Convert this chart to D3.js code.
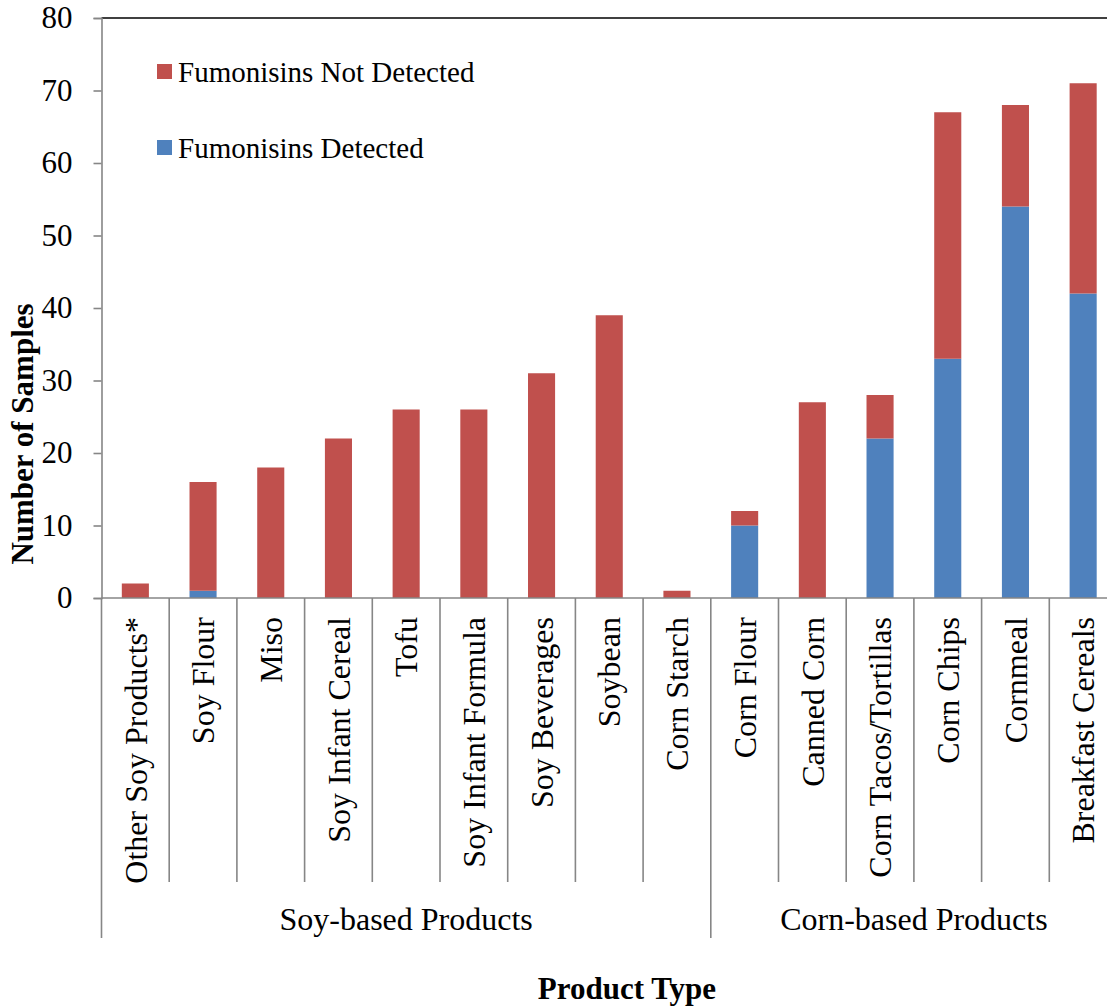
<!DOCTYPE html>
<html>
<head>
<meta charset="utf-8">
<script src="https://cdn.jsdelivr.net/npm/d3@7"></script>
<style>
  html, body { margin: 0; padding: 0; background: #fff; }
  svg { display: block; font-family: "Liberation Serif", "Times New Roman", serif; }
</style>
</head>
<body>
<svg id="chart" width="1107" height="1006"></svg>
<script>
// Product categories, in display order
const categories = [
  "Other Soy Products*", "Soy Flour", "Miso", "Soy Infant Cereal", "Tofu",
  "Soy Infant Formula", "Soy Beverages", "Soybean", "Corn Starch",
  "Corn Flour", "Canned Corn", "Corn Tacos/Tortillas", "Corn Chips",
  "Cornmeal", "Breakfast Cereals"
];
// Samples with fumonisins detected
const detected    = [0, 1, 0, 0, 0, 0, 0, 0, 0, 10, 0, 22, 33, 54, 42];
// Samples with fumonisins not detected
const notDetected = [2, 15, 18, 22, 26, 26, 31, 39, 1, 2, 27, 6, 34, 14, 29];
// Category groups: label and number of categories in each
const groups = [
  { label: "Soy-based Products",  count: 9 },
  { label: "Corn-based Products", count: 6 }
];
const yTicks = [0, 10, 20, 30, 40, 50, 60, 70, 80];
const seriesNames = ["Fumonisins Not Detected", "Fumonisins Detected"];

const colors = { detected: "#4F81BD", notDetected: "#C0504D" };
const axisGray = "#868686";
const serif = "'Liberation Serif', 'Times New Roman', serif";

const svg = d3.select("#chart");
const plotLeft = 101.5, plotRight = 1117, plotTop = 18, plotBottom = 598;

const x = d3.scaleBand().domain(categories).range([plotLeft, plotRight]).paddingInner(0.6).paddingOuter(0.3);
const xCat = d3.scaleBand().domain(categories).range([plotLeft, plotRight]);
const y = d3.scaleLinear().domain([0, 80]).range([plotBottom, plotTop]);

const rows = categories.map((c, i) => ({ category: c, detected: detected[i], notDetected: notDetected[i] }));
const stack = d3.stack().keys(["detected", "notDetected"])(rows);

// Stacked bars
svg.append("g").selectAll("g").data(stack).join("g")
  .attr("fill", d => colors[d.key])
  .selectAll("rect").data(d => d).join("rect")
  .attr("x", d => x(d.data.category))
  .attr("width", x.bandwidth())
  .attr("y", d => y(d[1]))
  .attr("height", d => y(d[0]) - y(d[1]));

// Plot area top border
svg.append("line")
  .attr("x1", plotLeft).attr("x2", plotRight).attr("y1", plotTop).attr("y2", plotTop)
  .attr("stroke", "#000").attr("stroke-width", 1.6);

// Y axis
const yAxis = svg.append("g")
  .attr("transform", `translate(${plotLeft},0)`)
  .call(d3.axisLeft(y).tickValues(yTicks).tickSize(8).tickPadding(21));
yAxis.attr("font-family", null).attr("font-size", null);
yAxis.select(".domain").attr("stroke", axisGray).attr("stroke-width", 1.6);
yAxis.selectAll(".tick line").attr("stroke", axisGray).attr("stroke-width", 1.6);
yAxis.selectAll(".tick text")
  .style("font-family", serif)
  .attr("font-size", 31).attr("fill", "#000");

// X axis baseline
svg.append("line")
  .attr("x1", plotLeft).attr("x2", plotRight).attr("y1", plotBottom).attr("y2", plotBottom)
  .attr("stroke", axisGray).attr("stroke-width", 1.6);

// Category separators
const sepBottom = 882, groupBottom = 938;
const groupStarts = [];
let acc = 0;
groups.forEach(g => { groupStarts.push(acc); acc += g.count; });
const boundaries = d3.range(categories.length + 1);
svg.append("g").selectAll("line").data(boundaries).join("line")
  .attr("x1", i => plotLeft + i * xCat.step())
  .attr("x2", i => plotLeft + i * xCat.step())
  .attr("y1", plotBottom)
  .attr("y2", i => (groupStarts.includes(i) || i === categories.length) ? groupBottom : sepBottom)
  .attr("stroke", axisGray).attr("stroke-width", 1.6);

// Category labels (rotated)
svg.append("g").selectAll("text").data(categories).join("text")
  .attr("transform", d => `translate(${xCat(d) + xCat.bandwidth() / 2},${plotBottom + 19}) rotate(-90)`)
  .attr("text-anchor", "end")
  .attr("dy", "0.35em")
  .attr("font-size", 32)
  .text(d => d);

// Group labels
svg.append("g").selectAll("text").data(groups).join("text")
  .attr("x", (g, i) => plotLeft + (groupStarts[i] + g.count / 2) * xCat.step())
  .attr("y", 930)
  .attr("text-anchor", "middle")
  .attr("font-size", 32)
  .text(g => g.label);

// Axis titles
svg.append("text")
  .attr("transform", "translate(33,434) rotate(-90)")
  .attr("text-anchor", "middle")
  .attr("font-size", 31).attr("font-weight", "bold")
  .text("Number of Samples");

svg.append("text")
  .attr("x", 627).attr("y", 999)
  .attr("text-anchor", "middle")
  .attr("font-size", 31).attr("font-weight", "bold")
  .text("Product Type");

// Legend
const legend = svg.append("g").selectAll("g").data(seriesNames).join("g")
  .attr("transform", (d, i) => `translate(157,${72 + i * 76})`);
legend.append("rect")
  .attr("x", 0).attr("y", -8).attr("width", 15).attr("height", 15)
  .attr("fill", (d, i) => i === 0 ? colors.notDetected : colors.detected);
legend.append("text")
  .attr("x", 21).attr("y", 0).attr("dy", "0.35em")
  .attr("font-size", 29)
  .text(d => d);
</script>
</body>
</html>
